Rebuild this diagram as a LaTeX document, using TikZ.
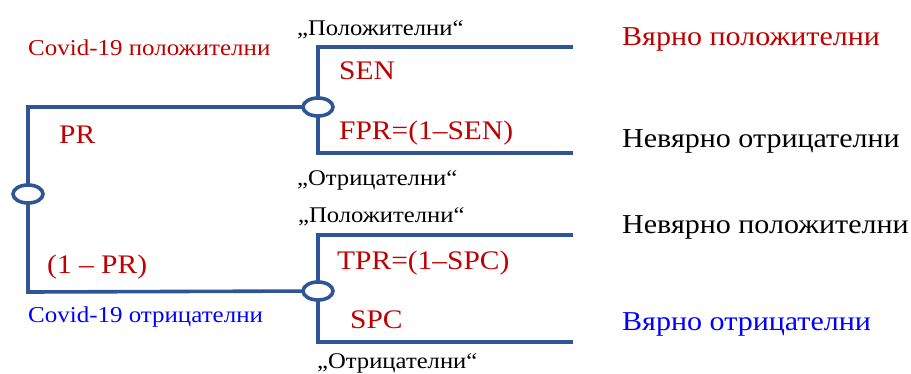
\documentclass[tikz,border=0pt]{standalone}
\usepackage{fontspec}
\setmainfont{Liberation Serif}[FakeStretch=1.1]
\usetikzlibrary{shapes.geometric}
\definecolor{branch}{HTML}{2F5597}
\definecolor{darkred}{HTML}{C00000}
\definecolor{pureblue}{HTML}{0000FF}
\tikzset{
  wire/.style={draw=branch, line width=3.6pt},
  chance/.style={ellipse, draw=branch, line width=3.6pt, fill=white,
    minimum width=30pt, minimum height=18pt, inner sep=0pt},
  lbl/.style={anchor=base west, inner sep=0pt},
  prob/.style={lbl, text=darkred, font=\fontsize{26.8}{26.8}\selectfont},
  outcome/.style={lbl, font=\fontsize{27.3}{27.3}\selectfont},
  group/.style={lbl, font=\fontsize{22.7}{22.7}\selectfont},
  testres/.style={lbl, font=\fontsize{22.4}{22.4}\selectfont},
}
\begin{document}
\begin{tikzpicture}[x=1pt, y=-1pt]
\useasboundingbox (0,0) rectangle (911,373);

% branch points
\coordinate (root) at (28,194);
\coordinate (rtop) at (28,107);
\coordinate (rbot) at (28,292);
\coordinate (ptop) at (318,107);
\coordinate (pbot) at (318,291);

% top box ends
\coordinate (t1) at (573,47);
\coordinate (t2) at (318,47);
\coordinate (t3) at (318,153);
\coordinate (t4) at (573,153);
% bottom box ends
\coordinate (b1) at (573,235);
\coordinate (b2) at (318,235);
\coordinate (b3) at (318,342);
\coordinate (b4) at (573,342);

\draw[wire] (ptop) -- (rtop) -- (rbot) -- (pbot);
\draw[wire] (t1) -- (t2) -- (t3) -- (t4);
\draw[wire] (b1) -- (b2) -- (b3) -- (b4);

\node[chance] (croot) at (root) {};
\node[chance] (ctop) at (ptop) {};
\node[chance] (cbot) at (pbot) {};

% labels on the left branches
\node[group, text=darkred] (gpos) at (28,55) {Covid-19 положителни};
\node[group, text=pureblue] (gneg) at (28,322) {Covid-19 отрицателни};
\node[prob] (pr) at (59,143) {PR};
\node[prob] (npr) at (47,273) {(1 – PR)};

% labels on the right branches
\node[testres] (q1) at (297,35) {„Положителни“};
\node[testres] (q2) at (297,185) {„Отрицателни“};
\node[testres] (q3) at (298,222) {„Положителни“};
\node[testres] (q4) at (317,368) {„Отрицателни“};

\node[prob] (sen) at (339,79) {SEN};
\node[prob] (fpr) at (339,139) {FPR=(1–SEN)};
\node[prob] (tpr) at (337,269) {TPR=(1–SPC)};
\node[prob] (spc) at (350,328) {SPC};

% outcomes
\node[outcome, text=darkred] (o1) at (622,45) {Вярно положителни};
\node[outcome] (o2) at (622,147) {Невярно отрицателни};
\node[outcome] (o3) at (622,233) {Невярно положителни};
\node[outcome, text=pureblue] (o4) at (622,330) {Вярно отрицателни};
\end{tikzpicture}
\end{document}
